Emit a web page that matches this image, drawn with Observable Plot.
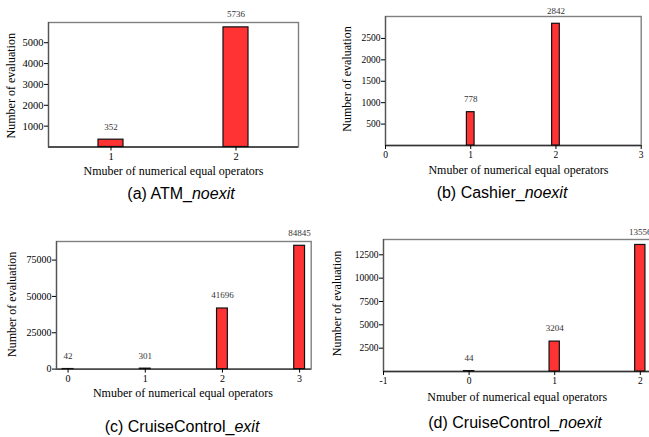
<!DOCTYPE html>
<html><head><meta charset="utf-8">
<script src="https://cdn.jsdelivr.net/npm/d3@7"></script>
<script src="https://cdn.jsdelivr.net/npm/@observablehq/plot@0.6"></script>
<style>
html,body{margin:0;padding:0;background:#fff;overflow:hidden;}
#root{position:relative;width:649px;height:437px;overflow:hidden;}
.panel{position:absolute;}
.panel svg{max-width:none !important;}
.cap{position:absolute;font-family:"Liberation Sans",Arial,sans-serif;font-size:16px;color:#000;white-space:nowrap;transform:translate(-50%,-50%);line-height:1;}
</style></head><body><div id="root"></div>
<script>
const xAxisLabel = "Nmuber of numerical equal operators";
const yAxisLabel = "Number of evaluation";

const atmOps = [1, 2];
const atmCounts = [352, 5736];
const atmXTicks = [1, 2];
const atmYTicks = [1000, 2000, 3000, 4000, 5000];

const cashierOps = [1, 2];
const cashierCounts = [778, 2842];
const cashierXTicks = [0, 1, 2, 3];
const cashierYTicks = [500, 1000, 1500, 2000, 2500];

const ccExitOps = [0, 1, 2, 3];
const ccExitCounts = [42, 301, 41696, 84845];
const ccExitXTicks = [0, 1, 2, 3];
const ccExitYTicks = [0, 25000, 50000, 75000];

const ccNoexitOps = [0, 1, 2];
const ccNoexitCounts = [44, 3204, 13556];
const ccNoexitXTicks = [-1, 0, 1, 2];
const ccNoexitYTicks = [2500, 5000, 7500, 10000, 12500];

const captionPrefixes = ["(a) ATM_", "(b) Cashier_", "(c) CruiseControl_", "(d) CruiseControl_"];
const captionSuffixes = ["noexit", "noexit", "exit", "noexit"];

const root = document.getElementById("root");
const serif = '"Liberation Serif","Times New Roman",serif';

function panel(cfg) {
  const data = cfg.ops.map((x, i) => ({x, y: cfg.counts[i]}));
  const mL = 50, mT = 22, mB = 40, mR = 10;
  const w = Math.round(cfg.fw + mL + mR), h = Math.round(cfg.fh + mT + mB);
  const hw = cfg.barW / 2;
  const chart = Plot.plot({
    width: w, height: h,
    marginLeft: mL, marginRight: w - mL - cfg.fw, marginTop: mT, marginBottom: h - mT - cfg.fh,
    style: {fontFamily: serif, background: "transparent", overflow: "visible", color: "#000", maxWidth: "none"},
    x: {type: "linear", domain: cfg.xDomain},
    y: {type: "linear", domain: cfg.yDomain},
    marks: [
      Plot.frame({stroke: "#808080", strokeWidth: 1.4}),
      Plot.ruleY([cfg.yDomain[0]], {stroke: "#333", strokeWidth: 1.4}),
      Plot.ruleX([cfg.xDomain[0]], {stroke: "#555", strokeWidth: 1.2}),
      Plot.rect(data, {x1: d => d.x - hw, x2: d => d.x + hw, y1: () => 0, y2: "y", fill: "#ff3333", stroke: "#111", strokeWidth: 1.2}),
      Plot.axisX(cfg.xTicks, {tickSize: 4, tickPadding: 2, fontSize: cfg.tickFont, tickFormat: d => String(d), label: null}),
      Plot.axisY(cfg.yTicks, {tickSize: 4, tickPadding: 1, fontSize: cfg.tickFont, tickFormat: d => String(d), label: null}),
      Plot.text(data, {x: "x", y: "y", text: d => String(d.y), dy: -13, fontSize: 9, fill: "#333"}),
      Plot.text([xAxisLabel], {frameAnchor: "bottom", lineAnchor: "middle", textAnchor: "middle", dy: cfg.xlDy, dx: cfg.xlDx, fontSize: 12}),
      Plot.text([yAxisLabel], {frameAnchor: "left", lineAnchor: "middle", textAnchor: "middle", dx: cfg.ylDx, dy: cfg.ylDy || 0, rotate: -90, fontSize: 12})
    ]
  });
  const div = document.createElement("div");
  div.className = "panel";
  div.style.left = (cfg.fx - mL) + "px";
  div.style.top = (cfg.fy - mT) + "px";
  div.style.width = w + "px";
  div.style.height = h + "px";
  div.appendChild(chart);
  root.appendChild(div);
}

panel({ops: atmOps, counts: atmCounts, xTicks: atmXTicks, yTicks: atmYTicks,
  fx: 48, fy: 22, fw: 250, fh: 124.5, xDomain: [0.5, 2.5], yDomain: [0, 5970], barW: 0.2,
  tickFont: 10.5, ylDx: -37, ylDy: 1, xlDy: 24, xlDx: 0});
panel({ops: cashierOps, counts: cashierCounts, xTicks: cashierXTicks, yTicks: cashierYTicks,
  fx: 385, fy: 15.7, fw: 255.7, fh: 129, xDomain: [0, 3], yDomain: [0, 3012], barW: 0.09,
  tickFont: 9.5, ylDx: -38, ylDy: -2, xlDy: 25, xlDx: 5});
panel({ops: ccExitOps, counts: ccExitCounts, xTicks: ccExitXTicks, yTicks: ccExitYTicks,
  fx: 56, fy: 240.7, fw: 254.7, fh: 127.6, xDomain: [-0.15, 3.15], yDomain: [0, 87800], barW: 0.14,
  tickFont: 10, ylDx: -44, ylDy: -1, xlDy: 24, xlDx: -1});
panel({ops: ccNoexitOps, counts: ccNoexitCounts, xTicks: ccNoexitXTicks, yTicks: ccNoexitYTicks,
  fx: 383, fy: 239, fw: 342.4, fh: 132, xDomain: [-1, 3], yDomain: [0, 14140], barW: 0.12,
  tickFont: 9.5, ylDx: -46.5, ylDy: -2, xlDy: 26, xlDx: -37.5});

const capPos = [[181, 194], [502, 193], [182, 427], [515, 423]];
capPos.forEach(([cx, cy], i) => {
  const c = document.createElement("div");
  c.className = "cap";
  c.style.left = cx + "px";
  c.style.top = cy + "px";
  c.appendChild(document.createTextNode(captionPrefixes[i]));
  const em = document.createElement("i");
  em.textContent = captionSuffixes[i];
  c.appendChild(em);
  root.appendChild(c);
});
</script>
</body></html>
